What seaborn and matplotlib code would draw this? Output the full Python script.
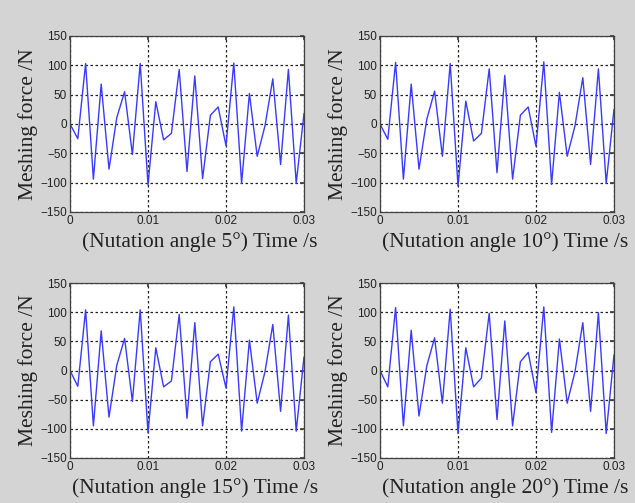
import numpy as np
import pandas as pd
import matplotlib
matplotlib.use("Agg")
import matplotlib.pyplot as plt
import seaborn as sns

time_s = [i * 0.001 for i in range(31)]
force_5 = [0, -25, 103, -94, 68, -77, 11, 55, -52, 103, -104, 38, -27, -16, 93, -81,
           82, -93, 15, 29, -37, 104, -101, 52, -55, -3, 77, -69, 93, -101, 18]
force_10 = [0, -26, 105, -94, 68, -77, 8, 56, -55, 103, -106, 39, -29, -16, 94, -83,
            83, -94, 15, 29, -38, 106, -103, 54, -55, -3, 79, -69, 94, -101, 25]
force_15 = [0, -27, 104, -95, 68, -80, 9, 55, -53, 104, -107, 39, -28, -18, 96, -82,
            82, -95, 15, 28, -30, 109, -104, 52, -56, -2, 79, -70, 95, -104, 23]
force_20 = [0, -28, 108, -95, 69, -78, 8, 56, -56, 105, -108, 39, -28, -13, 98, -84,
            85, -95, 15, 31, -38, 109, -106, 54, -56, -2, 82, -70, 99, -108, 27]
angles = ["5°", "10°", "15°", "20°"]
series = [force_5, force_10, force_15, force_20]
x_ticks = [0, 0.01, 0.02, 0.03]
x_tick_labels = ["0", "0.01", "0.02", "0.03"]
y_ticks = [-150, -100, -50, 0, 50, 100, 150]

sns.set_theme(style="white")
plt.rcParams["font.family"] = ["Liberation Sans", "DejaVu Sans"]

fig = plt.figure(figsize=(6.35, 5.03), dpi=100, facecolor="#d4d4d4")
W, H = 635.0, 503.0
boxes = [(70, 36, 304, 212), (380, 36, 614, 212), (70, 283, 304, 458), (380, 283, 614, 458)]

for (x0, y0, x1, y1), ang, vals in zip(boxes, angles, series):
    ax = fig.add_axes([x0 / W, 1 - y1 / H, (x1 - x0) / W, (y1 - y0) / H])
    ax.set_facecolor("white")
    df = pd.DataFrame({"t": time_s, "f": vals})
    sns.lineplot(data=df, x="t", y="f", ax=ax, color="#3a3aff", linewidth=1.0)
    ax.set_xlim(0, 0.03)
    ax.set_ylim(-150, 150)
    ax.set_xticks(x_ticks)
    ax.set_xticklabels(x_tick_labels)
    ax.set_yticks(y_ticks)
    ax.grid(True, color="#222222", linestyle=(0, (2, 2)), linewidth=0.9)
    for s in ax.spines.values():
        s.set_color("#404040")
        s.set_linewidth(0.9)
    ax.tick_params(direction="in", length=3, labelsize=8.5, colors="#404040",
                   labelcolor="#222222", pad=2, top=True, right=True)
    ax.set_xlabel(f"(Nutation angle {ang}) Time /s", family=["Liberation Serif", "DejaVu Serif"],
                  fontsize=15.5, color="#222222", ha="right")
    w, h = x1 - x0, y1 - y0
    ax.xaxis.set_label_coords(1 + 14 / w, -20 / h)
    ax.set_ylabel("Meshing force /N", family=["Liberation Serif", "DejaVu Serif"],
                  fontsize=15.5, color="#222222", labelpad=2)

fig.savefig("out.png", dpi=100, facecolor=fig.get_facecolor())
